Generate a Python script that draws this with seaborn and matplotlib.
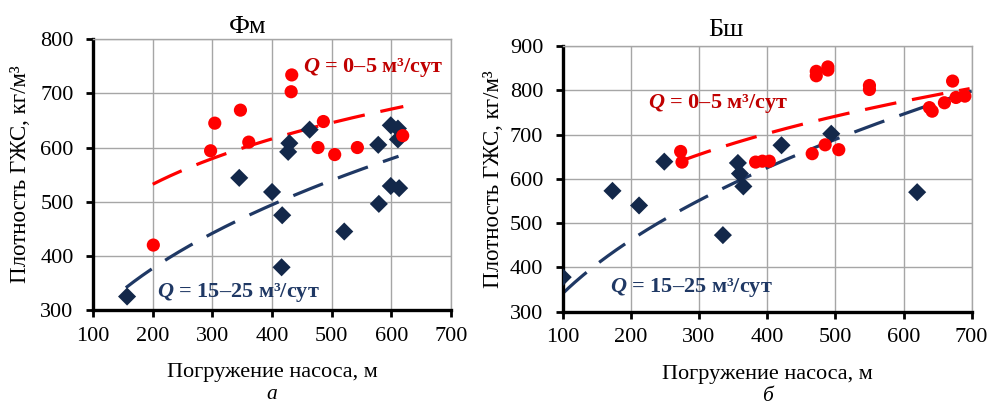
import numpy as np
import matplotlib
matplotlib.use("Agg")
import matplotlib.pyplot as plt
import seaborn as sns

# ---------------- data ----------------
# Panel a (Фм)
fm_red_x = [201, 297, 304, 347, 361, 432, 433, 477, 486, 505, 543, 619]
fm_red_y = [420, 594, 645, 669, 610, 703, 734, 600, 648, 587, 600, 622]
fm_navy_x = [157, 345, 400, 417, 416, 429, 427, 463, 521, 578, 579, 599, 599, 611, 611, 613]
fm_navy_y = [325, 544, 518, 475, 379, 608, 592, 633, 445, 605, 496, 641, 529, 635, 615, 525]

# Panel б (Бш)
bsh_red_x = [273, 275, 383, 393, 403, 466, 472, 472, 485, 489, 489, 505, 550, 550,
             638, 642, 660, 672, 677, 690]
bsh_red_y = [662, 638, 638, 640, 640, 657, 833, 843, 677, 846, 853, 666, 802, 811,
             761, 753, 772, 821, 784, 787]
bsh_navy_x = [100, 173, 212, 249, 335, 357, 360, 365, 421, 494, 620]
bsh_navy_y = [378, 573, 540, 639, 473, 636, 612, 583, 676, 702, 570]

# power trendlines y = a * x**b and their x-ranges
fm_red_trend = {"a": 174.0, "b": 0.211, "range": (200, 620)}
fm_navy_trend = {"a": 47.5, "b": 0.391, "range": (155, 612)}
bsh_red_trend = {"a": 163.8, "b": 0.243, "range": (273, 697)}
bsh_navy_trend = {"a": 45.6, "b": 0.437, "range": (100, 700)}

titles = ["Фм", "Бш"]
sublabels = ["а", "б"]
xticks = [100, 200, 300, 400, 500, 600, 700]
fm_yticks = [300, 400, 500, 600, 700, 800]
bsh_yticks = [300, 400, 500, 600, 700, 800, 900]
xlabel = "Погружение насоса, м"
ylabel = "Плотность ГЖС, кг/м³"
label_red = r"$\mathit{Q}$ = 0–5 м³/сут"
label_navy = r"$\mathit{Q}$ = 15–25 м³/сут"

RED = "#FF0000"
RED_TXT = "#C00000"
NAVY = "#13284A"
NAVY_LINE = "#1F3864"
GRID = "#A6A6A6"

sns.set_theme(style="white")
plt.rcParams["font.family"] = ["Liberation Serif", "DejaVu Serif"]
plt.rcParams["mathtext.fontset"] = "custom"
plt.rcParams["mathtext.it"] = "Liberation Serif:italic:bold"
plt.rcParams["mathtext.rm"] = "Liberation Serif:bold"

fig = plt.figure(figsize=(9.9, 4.08), dpi=100)
ax1 = fig.add_axes([0.094, 0.240, 0.3616, 0.664])
ax2 = fig.add_axes([0.5684, 0.236, 0.4131, 0.651])


def trend(tr):
    xs = np.linspace(tr["range"][0], tr["range"][1], 200)
    return xs, tr["a"] * xs ** tr["b"]


def panel(ax, rx, ry, nx, ny, rtr, ntr, yticks, title, sub,
          title_x, title_y, ylab_x, xlab_y, sub_y,
          red_txt_pos, navy_txt_pos):
    for tr, col in ((ntr, NAVY_LINE), (rtr, RED)):
        xs, ys = trend(tr)
        sns.lineplot(x=xs, y=ys, ax=ax, color=col, lw=2.3, zorder=2)
        ax.lines[-1].set_dashes((10, 5))
    sns.scatterplot(x=nx, y=ny, ax=ax, marker="D", s=85, color=NAVY,
                    edgecolor="none", zorder=3)
    sns.scatterplot(x=rx, y=ry, ax=ax, marker="o", s=90, color=RED,
                    edgecolor="none", zorder=4)
    ax.set_xlim(100, 700)
    ax.set_ylim(yticks[0], yticks[-1])
    ax.set_xticks(xticks)
    ax.set_yticks(yticks)
    ax.grid(True, color=GRID, lw=1.0)
    ax.set_axisbelow(True)
    for s in ["top", "right"]:
        ax.spines[s].set_color(GRID)
        ax.spines[s].set_linewidth(1.0)
    for s in ["left", "bottom"]:
        ax.spines[s].set_color("black")
        ax.spines[s].set_linewidth(2.4)
    ax.tick_params(axis="both", direction="out", length=5, width=2,
                   color="black", labelsize=16, labelcolor="black",
                   left=True, bottom=True)
    ax.tick_params(axis="y", pad=9)
    ax.tick_params(axis="x", pad=7)
    ax.set_xlabel("")
    ax.set_ylabel("")
    blend = ax.get_xaxis_transform()
    ax.text(title_x, title_y, title, transform=blend, ha="center",
            va="center", fontsize=19, color="black")
    ax.text(0.5, xlab_y, xlabel, transform=ax.transAxes, ha="center",
            va="center", fontsize=16, color="black")
    ax.text(ylab_x, 0.5, ylabel, transform=ax.transAxes, ha="center",
            va="center", rotation=90, fontsize=16.5, color="black")
    ax.text(0.5, sub_y, sub, transform=ax.transAxes, ha="center",
            va="center", fontsize=15.5, style="italic", color="black")
    ax.text(*red_txt_pos, label_red, color=RED_TXT, fontsize=16,
            fontweight="bold", ha="left", va="center", zorder=5)
    ax.text(*navy_txt_pos, label_navy, color=NAVY_LINE, fontsize=16,
            fontweight="bold", ha="left", va="center", zorder=5)


panel(ax1, fm_red_x, fm_red_y, fm_navy_x, fm_navy_y, fm_red_trend,
      fm_navy_trend, fm_yticks, titles[0], sublabels[0],
      360, 1.045, -0.204, -0.229, -0.312,
      (452, 748), (207, 333))
panel(ax2, bsh_red_x, bsh_red_y, bsh_navy_x, bsh_navy_y, bsh_red_trend,
      bsh_navy_trend, bsh_yticks, titles[1], sublabels[1],
      340, 1.06, -0.170, -0.238, -0.318,
      (225, 771), (169, 354))

fig.savefig("out.png", dpi=100, facecolor="white")
